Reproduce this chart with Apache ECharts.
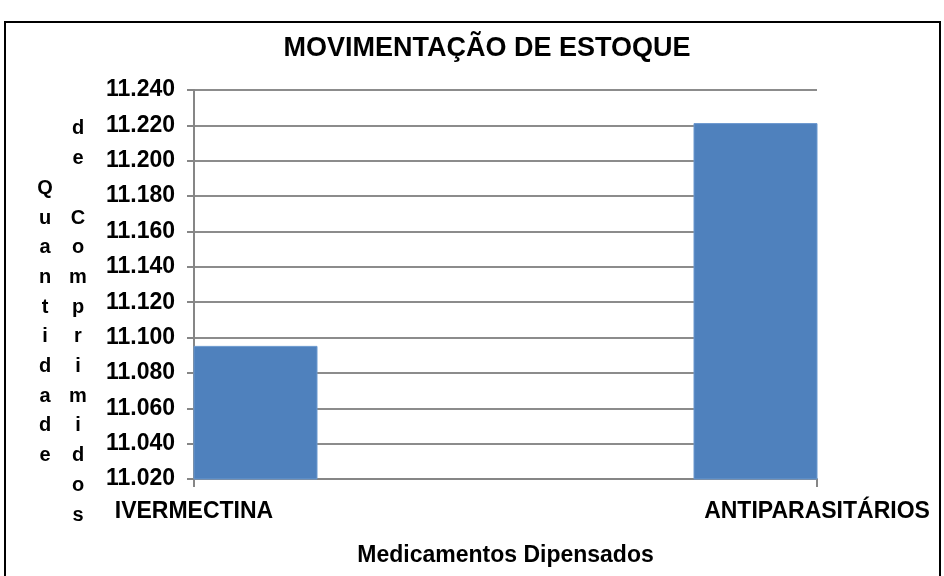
<!DOCTYPE html>
<html>
<head>
<meta charset="utf-8">
<script src="https://cdn.jsdelivr.net/npm/echarts@6/dist/echarts.min.js"></script>
<style>
html,body{margin:0;padding:0;background:#fff;}
#chart{width:944px;height:576px;}
</style>
</head>
<body>
<div id="chart"></div>
<script>
// Data
const chartTitle = "MOVIMENTAÇÃO DE ESTOQUE";
const categories = ["IVERMECTINA", "ANTIPARASITÁRIOS"];
const values = [11095, 11221];
const xAxisTitle = "Medicamentos Dipensados";
const yTitleCol1 = "Quantidade";
const yTitleCol2 = "de Comprimidos";
const yMin = 11020, yMax = 11240, yStep = 20;

const FONT = "'Liberation Sans', Arial, sans-serif";
const fmt = v => { const s = String(Math.round(v)); return s.slice(0, s.length - 3) + "." + s.slice(-3); };
const stack = s => s.split("").join("\n");
const BAR_W = 246;

const chart = echarts.init(document.getElementById('chart'), null, {renderer: 'canvas'});
chart.setOption({
  backgroundColor: '#ffffff',
  animation: false,
  title: {
    text: chartTitle,
    left: 482, top: 30, textAlign: 'center',
    textStyle: {fontFamily: FONT, fontWeight: 'bold', fontSize: 27, color: '#000'}
  },
  grid: {left: 194, right: 127, top: 90, bottom: 97, containLabel: false},
  xAxis: {
    type: 'category',
    data: categories,
    boundaryGap: false,
    name: xAxisTitle,
    nameLocation: 'middle',
    nameGap: 65,
    nameMoveOverlap: false,
    nameTextStyle: {fontFamily: FONT, fontWeight: 'bold', fontSize: 23, color: '#000'},
    axisLine: {show: true, lineStyle: {color: '#868686', width: 2}},
    axisTick: {show: true, alignWithLabel: true, length: 8, lineStyle: {color: '#868686', width: 2}},
    axisLabel: {fontFamily: FONT, fontWeight: 'bold', fontSize: 23, color: '#000', margin: 21, interval: 0},
    splitLine: {show: false}
  },
  yAxis: {
    type: 'value',
    min: yMin, max: yMax, interval: yStep,
    axisLine: {show: true, lineStyle: {color: '#868686', width: 2}},
    axisTick: {show: true, length: 7, lineStyle: {color: '#868686', width: 2}},
    axisLabel: {fontFamily: FONT, fontWeight: 'bold', fontSize: 23, color: '#000', margin: 19, formatter: fmt},
    splitLine: {show: true, lineStyle: {color: '#8c8c8c', width: 2}}
  },
  series: [{
    type: 'custom',
    data: categories.map((c, i) => [i, values[i]]),
    encode: {x: 0, y: 1},
    renderItem: function (params, api) {
      const top = api.coord([api.value(0), api.value(1)]);
      const base = api.coord([api.value(0), yMin]);
      const cs = params.coordSys;
      const shape = echarts.graphic.clipRectByRect(
        {x: top[0] - BAR_W / 2, y: top[1], width: BAR_W, height: base[1] - top[1]},
        {x: cs.x, y: cs.y, width: cs.width, height: cs.height}
      );
      if (!shape) return null;
      return {type: 'rect', shape: shape, style: {fill: '#4F81BD', stroke: '#6a98cf', lineWidth: 1}};
    }
  }],
  graphic: [
    {type: 'rect', silent: true, z: 100,
     shape: {x: 5, y: 22, width: 935, height: 600},
     style: {fill: null, stroke: '#000', lineWidth: 2}},
    {type: 'text', silent: true, x: 45, y: 322,
     style: {text: stack(yTitleCol1), fontFamily: FONT, fontWeight: 'bold', fontSize: 20, lineHeight: 29.7,
             fill: '#000', align: 'center', verticalAlign: 'middle'}},
    {type: 'text', silent: true, x: 78, y: 322,
     style: {text: stack(yTitleCol2), fontFamily: FONT, fontWeight: 'bold', fontSize: 20, lineHeight: 29.7,
             fill: '#000', align: 'center', verticalAlign: 'middle'}}
  ]
});
</script>
</body>
</html>
